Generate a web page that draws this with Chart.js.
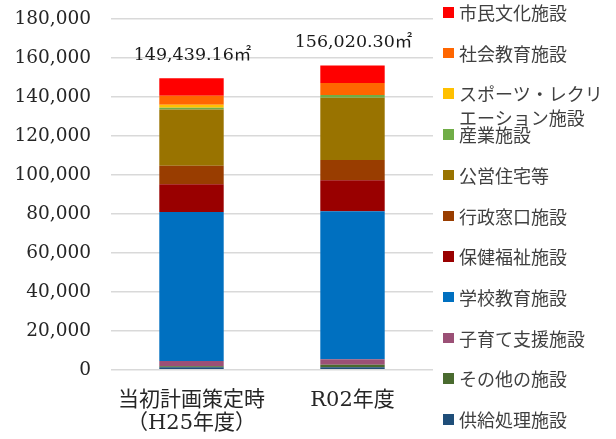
<!DOCTYPE html>
<html lang="ja">
<head>
<meta charset="utf-8">
<script src="https://cdn.jsdelivr.net/npm/chart.js@4/dist/chart.umd.min.js"></script>
<style>
  html, body { margin: 0; padding: 0; background: #fff; }
  #wrap { position: relative; width: 616px; height: 439px; overflow: hidden; }
  #chart { position: absolute; left: 0; top: 0; }
  .lg-item { position: absolute; left: 443px; width: 170px; font-family: "Noto Sans CJK JP", sans-serif;
             font-size: 18px; line-height: 24px; color: #404040; }
  .lg-box { position: absolute; left: 0; top: 7px; width: 10.5px; height: 10.5px; }
  .lg-text { position: absolute; left: 16px; top: 0; width: 150px; white-space: normal; }
</style>
</head>
<body>
<div id="wrap">
  <canvas id="chart" width="616" height="439"></canvas>
</div>
<script>
// Floor area of public facilities (㎡), by facility type, stacked bottom to top
const categories = [['当初計画策定時', '（H25年度）'], 'R02年度'];

const seriesNames = [
  '供給処理施設', 'その他の施設', '子育て支援施設', '学校教育施設', '保健福祉施設',
  '行政窓口施設', '公営住宅等', '産業施設', 'スポーツ・レクリエーション施設',
  '社会教育施設', '市民文化施設'
];

const supplyFacilities   = [1200, 1300];
const otherFacilities    = [600, 1300];
const childcare          = [2600, 2700];
const schoolEducation    = [76500, 75900];
const healthWelfare      = [14200, 15900];
const administration     = [9500, 10400];
const publicHousing      = [28900, 32000];
const industry           = [800, 1400];
const sportsRecreation   = [1600, 0];
const socialEducation    = [4600, 6100];
const civicCulture       = [8939.16, 9020.30];

const yTicks = [0, 20000, 40000, 60000, 80000, 100000, 120000, 140000, 160000, 180000];

const seriesValues = [
  supplyFacilities, otherFacilities, childcare, schoolEducation, healthWelfare,
  administration, publicHousing, industry, sportsRecreation, socialEducation, civicCulture
];

const seriesColors = [
  '#1f4e79', '#4a6b2f', '#9b5076', '#0070c0', '#990000',
  '#993d00', '#997300', '#70ad47', '#ffc000', '#ff6600', '#ff0000'
];

const serifFont = '"DejaVu Serif", "Noto Sans CJK JP", serif';

// Total floor area printed above each stacked column
const totalsPlugin = {
  id: 'totals',
  afterDatasetsDraw(chart) {
    const ctx = chart.ctx;
    const y = chart.scales.y;
    const x = chart.scales.x;
    ctx.save();
    ctx.font = '17.5px ' + serifFont;
    ctx.fillStyle = '#1a1a1a';
    ctx.textAlign = 'center';
    ctx.textBaseline = 'middle';
    categories.forEach((c, i) => {
      const total = chart.data.datasets.reduce((s, d) => s + d.data[i], 0);
      const txt = total.toLocaleString('en-US', { minimumFractionDigits: 2, maximumFractionDigits: 2 }) + '㎡';
      ctx.fillText(txt, x.getPixelForValue(i) + 1, y.getPixelForValue(total) - 23);
    });
    ctx.restore();
  }
};

const chart = new Chart(document.getElementById('chart'), {
  type: 'bar',
  data: {
    labels: categories,
    datasets: seriesNames.map((name, i) => ({
      label: name,
      data: seriesValues[i],
      backgroundColor: seriesColors[i],
      borderWidth: 0,
      barPercentage: 0.8,
      categoryPercentage: 0.5
    }))
  },
  options: {
    responsive: false,
    animation: false,
    layout: { padding: { top: 18.7, right: 183, left: 0, bottom: 0 } },
    plugins: { legend: { display: false }, tooltip: { enabled: false } },
    scales: {
      x: {
        stacked: true,
        grid: { display: false, drawTicks: false },
        border: { display: false },
        ticks: {
          color: '#262626',
          padding: 19,
          font: { family: serifFont, size: 21, lineHeight: 1.1 },
          maxRotation: 0
        },
        afterFit(scale) { scale.height = 69.3; }
      },
      y: {
        stacked: true,
        min: 0,
        max: 180000,
        afterBuildTicks(scale) { scale.ticks = yTicks.map(v => ({ value: v })); },
        grid: { color: '#d9d9d9', lineWidth: 1.5, drawTicks: true, tickLength: 20, tickColor: 'rgba(0,0,0,0)' },
        border: { display: false },
        ticks: {
          color: '#262626',
          padding: 0,
          font: { family: serifFont, size: 18.5 },
          callback: v => v.toLocaleString('en-US')
        },
        afterFit(scale) { scale.width = 111; }
      }
    }
  },
  plugins: [totalsPlugin]
});

// Legend on the right, listed top stack first
const wrap = document.getElementById('wrap');
chart.data.datasets.slice().reverse().forEach((ds, i) => {
  const item = document.createElement('div');
  item.className = 'lg-item';
  item.style.top = (12 + i * 40.7 - 12) + 'px';
  const box = document.createElement('div');
  box.className = 'lg-box';
  box.style.background = ds.backgroundColor;
  const text = document.createElement('div');
  text.className = 'lg-text';
  text.textContent = ds.label;
  item.appendChild(box);
  item.appendChild(text);
  wrap.appendChild(item);
});
</script>
</body>
</html>
